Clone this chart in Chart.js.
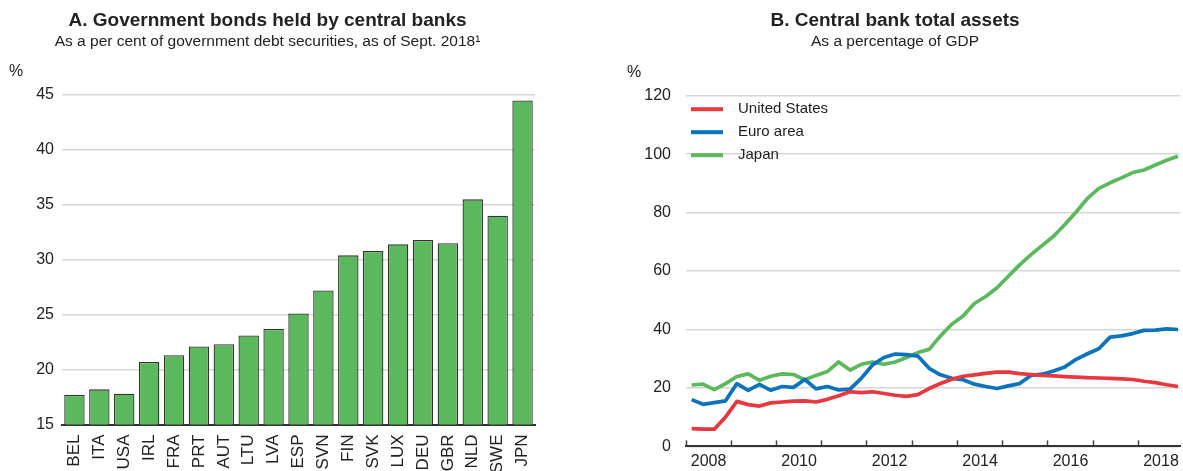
<!DOCTYPE html>
<html>
<head>
<meta charset="utf-8">
<script src="https://cdn.jsdelivr.net/npm/chart.js@4.4.1/dist/chart.umd.min.js"></script>
<style>
  body { margin: 0; background: #fff; }
  canvas { position: absolute; top: 0; }
  #chartA { left: 0; }
  #chartB { left: 610px; }
</style>
</head>
<body>
<canvas id="chartA" width="564" height="471"></canvas>
<canvas id="chartB" width="573" height="471"></canvas>
<script>
// Panel A - bonos en manos de bancos centrales (% de la deuda)
const paises = ['BEL', 'ITA', 'USA', 'IRL', 'FRA', 'PRT', 'AUT', 'LTU', 'LVA', 'ESP',
  'SVN', 'FIN', 'SVK', 'LUX', 'DEU', 'GBR', 'NLD', 'SWE', 'JPN'];
const bonos = [17.7, 18.2, 17.8, 20.7, 21.3, 22.1, 22.3, 23.1, 23.7, 25.1,
  27.2, 30.4, 30.8, 31.4, 31.8, 31.5, 35.5, 34.0, 44.5];
const ticksA = [15, 20, 25, 30, 35, 40, 45];

// Panel B - activos totales, % del PIB, trimestral
const trimestres = [
  '2008Q1', '2008Q2', '2008Q3', '2008Q4', '2009Q1', '2009Q2', '2009Q3', '2009Q4',
  '2010Q1', '2010Q2', '2010Q3', '2010Q4', '2011Q1', '2011Q2', '2011Q3', '2011Q4',
  '2012Q1', '2012Q2', '2012Q3', '2012Q4', '2013Q1', '2013Q2', '2013Q3', '2013Q4',
  '2014Q1', '2014Q2', '2014Q3', '2014Q4', '2015Q1', '2015Q2', '2015Q3', '2015Q4',
  '2016Q1', '2016Q2', '2016Q3', '2016Q4', '2017Q1', '2017Q2', '2017Q3', '2017Q4',
  '2018Q1', '2018Q2', '2018Q3', '2018Q4'];
const usa = [6.1, 5.9, 5.9, 10.1, 15.4, 14.3, 13.8, 14.9, 15.2, 15.5, 15.6, 15.2,
  16.1, 17.3, 18.7, 18.4, 18.7, 18.1, 17.5, 17.1, 17.7, 19.8, 21.5, 23.0,
  24.0, 24.5, 25.0, 25.4, 25.4, 24.9, 24.6, 24.3, 24.1, 23.9, 23.7, 23.5,
  23.4, 23.3, 23.1, 22.9, 22.3, 21.8, 21.1, 20.5];
const euro = [16.0, 14.4, 15.0, 15.6, 21.5, 19.2, 21.2, 19.2, 20.5, 20.2, 22.9, 19.7,
  20.5, 19.3, 19.6, 23.3, 27.9, 30.4, 31.6, 31.4, 30.9, 26.7, 24.5, 23.3,
  22.8, 21.3, 20.5, 19.8, 20.7, 21.5, 24.3, 24.7, 25.8, 27.2, 29.8, 31.7,
  33.4, 37.4, 37.8, 38.6, 39.7, 39.8, 40.2, 40.0];
const japon = [21.0, 21.3, 19.4, 21.5, 23.9, 24.8, 22.6, 24.0, 24.8, 24.6, 22.8, 24.3,
  25.6, 28.9, 26.1, 28.1, 28.9, 28.1, 28.9, 30.4, 32.1, 33.2, 37.8, 41.8,
  44.6, 48.9, 51.3, 54.3, 58.2, 62.1, 65.6, 68.8, 71.9, 75.9, 80.2, 84.9,
  88.3, 90.2, 91.9, 93.7, 94.6, 96.3, 97.9, 99.3];
const anios = [2008, 2009, 2010, 2011, 2012, 2013, 2014, 2015, 2016, 2017, 2018];

const rojo = '#e8373f';
const azul = '#0a73bb';
const verde = '#5cb85c';
const gris = '#d6d6d6';
const fuente = '"Liberation Sans", Arial, Helvetica, sans-serif';

Chart.defaults.font.family = fuente;
Chart.defaults.color = '#222';
Chart.defaults.animation = false;

// trimestre -> posicion en el eje (mitad del trimestre)
function posTrimestre(t) {
  const y = parseInt(t.slice(0, 4));
  const q = parseInt(t.slice(5));
  return y + (q - 0.5) / 4;
}

function serie(valores) {
  return valores.map((v, i) => ({ x: posTrimestre(trimestres[i]), y: v }));
}

// plugin para el "%" sobre el eje y
const porcentaje = {
  id: 'porcentaje',
  afterDraw(chart, args, opts) {
    const { ctx, chartArea } = chart;
    ctx.save();
    ctx.font = '16px ' + fuente;
    ctx.fillStyle = '#222';
    ctx.textAlign = 'center';
    ctx.textBaseline = 'middle';
    ctx.fillText('%', chartArea.left - opts.dx, chartArea.top - 23);
    ctx.restore();
  }
};

// leyenda dentro del area, con lineas
const leyenda = {
  id: 'leyenda',
  afterDatasetsDraw(chart) {
    const { ctx, chartArea } = chart;
    ctx.save();
    ctx.font = '15px ' + fuente;
    ctx.textBaseline = 'middle';
    chart.data.datasets.forEach((ds, i) => {
      const y = chartArea.top + 13.5 + i * 23;
      ctx.strokeStyle = ds.borderColor;
      ctx.lineWidth = 4;
      ctx.beginPath();
      ctx.moveTo(chartArea.left + 5, y);
      ctx.lineTo(chartArea.left + 37, y);
      ctx.stroke();
      ctx.fillStyle = '#222';
      ctx.fillText(ds.label, chartArea.left + 52, y);
    });
    ctx.restore();
  }
};

const titulo = (texto) => ({
  display: true, text: texto, color: '#222',
  font: { size: 19, weight: 'bold', lineHeight: 1.2 },
  padding: { top: 9.6, bottom: 0 }
});
const subtitulo = (texto, abajo) => ({
  display: true, text: texto, color: '#222',
  font: { size: 15.5, lineHeight: 1.2 },
  padding: { top: 0, bottom: abajo }
});

// Grafica A
new Chart(document.getElementById('chartA'), {
  type: 'bar',
  data: {
    labels: paises,
    datasets: [{
      data: bonos,
      backgroundColor: verde,
      borderColor: '#333',
      borderWidth: 1.3,
      borderSkipped: 'start',
      barPercentage: 0.82,
      categoryPercentage: 1
    }]
  },
  options: {
    responsive: false,
    devicePixelRatio: 1,
    layout: { padding: { left: 0, right: 29, top: 0, bottom: 0 } },
    plugins: {
      legend: { display: false },
      tooltip: { enabled: false },
      title: titulo('A. Government bonds held by central banks'),
      subtitle: subtitulo('As a per cent of government debt securities, as of Sept. 2018\u00b9', 44),
      porcentaje: { dx: 46 }
    },
    scales: {
      x: {
        grid: { display: false },
        border: { display: true, color: '#333', width: 2 },
        ticks: { font: { size: 17 }, color: '#222', minRotation: 90, maxRotation: 90, padding: 2, autoSkip: false },
        afterFit(s) { s.height = 46.5; }
      },
      y: {
        min: 15, max: 45,
        afterBuildTicks(s) { s.ticks = ticksA.map(v => ({ value: v })); },
        grid: { color: gris, lineWidth: 1.5, drawTicks: false },
        border: { display: false },
        ticks: { font: { size: 16 }, color: '#222', padding: 8 },
        afterFit(s) { s.width = 62; }
      }
    }
  },
  plugins: [porcentaje]
});

// Grafica B
new Chart(document.getElementById('chartB'), {
  type: 'line',
  data: {
    datasets: [
      { label: 'United States', data: serie(usa), borderColor: rojo, backgroundColor: rojo },
      { label: 'Euro area', data: serie(euro), borderColor: azul, backgroundColor: azul },
      { label: 'Japan', data: serie(japon), borderColor: verde, backgroundColor: verde }
    ]
  },
  options: {
    responsive: false,
    devicePixelRatio: 1,
    layout: { padding: { left: 0, right: 3, top: 0, bottom: 0 } },
    elements: {
      line: { borderWidth: 3.7, tension: 0, borderJoinStyle: 'round' },
      point: { radius: 0 }
    },
    plugins: {
      legend: { display: false },
      tooltip: { enabled: false },
      title: titulo('B. Central bank total assets'),
      subtitle: subtitulo('As a percentage of GDP', 44.7),
      porcentaje: { dx: 52 }
    },
    scales: {
      x: {
        type: 'linear',
        min: 2008, max: 2018.92,
        afterBuildTicks(s) { s.ticks = anios.map(v => ({ value: v })); },
        grid: { display: true, drawOnChartArea: false, drawTicks: true, tickLength: -6, color: '#444', tickWidth: 1.5 },
        border: { display: true, color: '#333', width: 2 },
        ticks: {
          font: { size: 16 }, color: '#222', padding: 12, labelOffset: 22.6,
          maxRotation: 0, autoSkip: false,
          callback: (v) => (v % 2 === 0 ? String(v) : '')
        },
        afterFit(s) { s.height = 23.7; }
      },
      y: {
        min: 0, max: 120,
        ticks: { stepSize: 20, font: { size: 16 }, color: '#222', padding: 15 },
        grid: { color: gris, lineWidth: 1.5, drawTicks: false },
        border: { display: false },
        afterFit(s) { s.width = 76; }
      }
    }
  },
  plugins: [porcentaje, leyenda]
});
</script>
</body>
</html>
